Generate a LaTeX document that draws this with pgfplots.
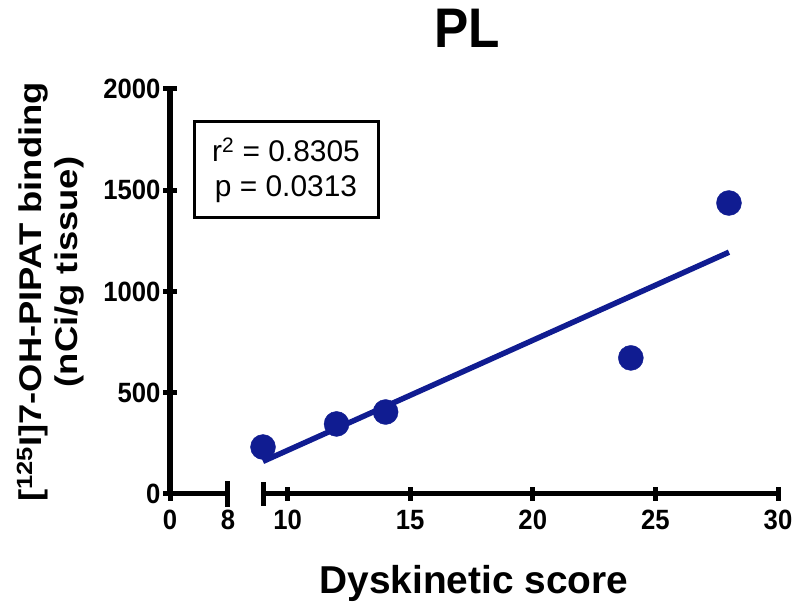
\documentclass[border=0pt]{standalone}
\usepackage{fontspec}
\setmainfont{Liberation Sans}
\newfontfamily\tickfont[FakeStretch=0.92]{Liberation Sans}
\newfontfamily\ylabfont[FakeStretch=1.16]{Liberation Sans}
\usepackage{pgfplots}
\pgfplotsset{compat=1.18}
\definecolor{dotblue}{RGB}{16,28,145}

\begin{document}
\begin{tikzpicture}[x=1bp,y=1bp]
\useasboundingbox (0bp,0bp) rectangle (800bp,610bp);
\pgfplotsset{
  brk/.style={
    scale only axis, height=405bp, ymin=0, ymax=2000,
    tick style={line width=5bp, black},
    major tick length=14bp,
    tick align=outside,
    ticklabel style={font=\tickfont\bfseries\fontsize{28}{28}\selectfont},
    xticklabel style={yshift=-6bp},
    yticklabel style={xshift=1bp},
    /pgf/number format/assume math mode=true,
    /pgf/number format/1000 sep={},
    clip=false,
  },
  brkline/.style={
    x axis line style={-, line width=5bp},
    y axis line style={-, line width=5.5bp},
  }
}
\begin{axis}[brk, at={(170bp,116bp)}, anchor=south west, width=58bp,
  xmin=0, xmax=8, axis lines=left, brkline,
  xtick={0,8}, ytick={0,500,...,2000},
  extra x ticks={8}, extra x tick labels={},
  extra x tick style={tick align=center, major tick length=26bp}]
\end{axis}
\begin{axis}[brk, at={(263bp,116bp)}, anchor=south west, width=515bp,
  xmin=9, xmax=30, axis x line=bottom, axis y line=none, brkline, ytick=\empty,
  xtick={10,15,20,25,30},
  extra x ticks={9}, extra x tick labels={},
  extra x tick style={tick align=center, major tick length=24bp}]
\addplot[dotblue, line width=5.5bp] coordinates {(9,161) (28,1194)};
\addplot[only marks, mark=*, mark size=12.5bp, mark options={draw=dotblue, fill=dotblue}] coordinates {(9,232) (12,346) (14,405) (24,672) (28,1437)};
\end{axis}
\node[font=\tickfont\bfseries\fontsize{56}{56}\selectfont] at (467bp,582bp) {PL};
\node[font=\bfseries\fontsize{39}{39}\selectfont, anchor=base] at (474bp,17bp) {Dyskinetic score};
\node[font=\ylabfont\bfseries\fontsize{31.5}{31.5}\selectfont, rotate=90, anchor=base] at (41bp,318bp) {[\textsuperscript{125}I]7-OH-PIPAT binding};
\node[font=\ylabfont\bfseries\fontsize{31.5}{31.5}\selectfont, rotate=90, anchor=base] at (77bp,338bp) {(nCi/g tissue)};
\node[draw, line width=3bp, font=\fontsize{30}{35}\selectfont, align=center, minimum width=184bp, minimum height=96bp] at (286bp,440bp) {r\textsuperscript{2} = 0.8305\\p = 0.0313};
\end{tikzpicture}
\end{document}
